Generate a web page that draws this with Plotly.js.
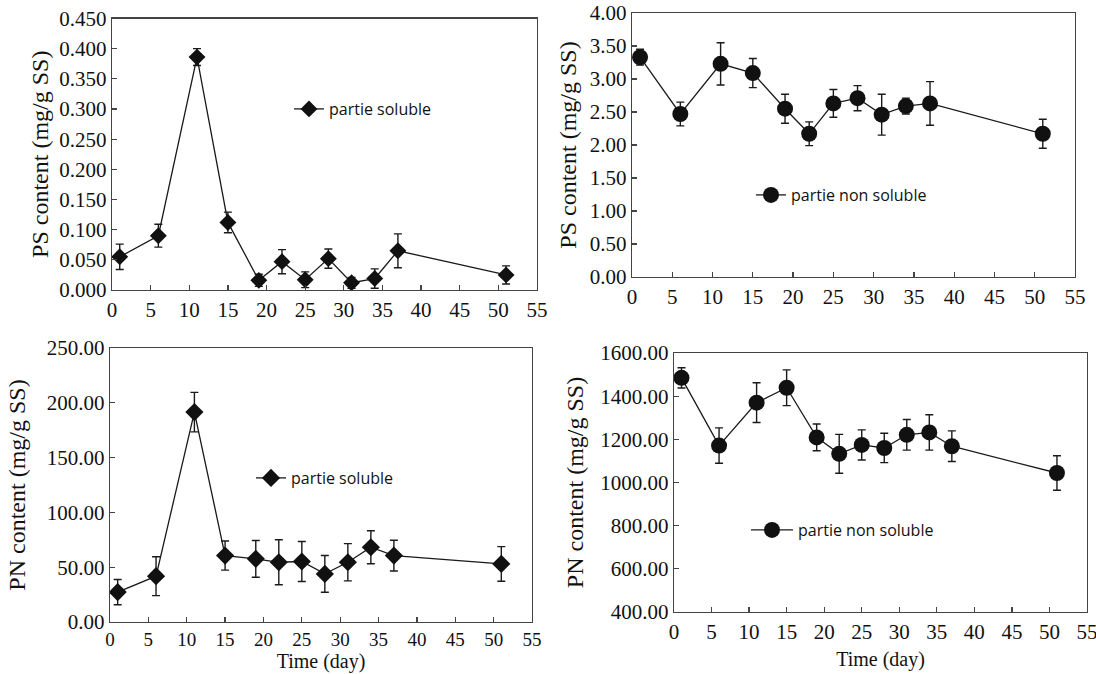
<!DOCTYPE html>
<html>
<head>
<meta charset="utf-8">
<script src="https://cdn.plot.ly/plotly-3.0.1.min.js"></script>
<style>html,body{margin:0;padding:0;background:#fff;}#chart{width:1096px;height:674px;}</style>
</head>
<body>
<div id="chart"></div>
<script>
// ---- data ----
const days = [1, 6, 11, 15, 19, 22, 25, 28, 31, 34, 37, 51];

const psSoluble      = [0.055, 0.090, 0.386, 0.112, 0.016, 0.047, 0.017, 0.052, 0.012, 0.019, 0.065, 0.025];
const psSolubleErr   = [0.021, 0.019, 0.014, 0.017, 0.010, 0.020, 0.013, 0.016, 0.009, 0.016, 0.028, 0.015];

const psInsoluble    = [3.33, 2.47, 3.23, 3.09, 2.55, 2.17, 2.63, 2.71, 2.46, 2.59, 2.63, 2.17];
const psInsolubleErr = [0.12, 0.18, 0.32, 0.22, 0.22, 0.18, 0.21, 0.19, 0.31, 0.12, 0.33, 0.22];

const pnSoluble      = [27.3, 41.8, 191.5, 60.6, 57.6, 54.5, 55.2, 43.9, 54.5, 68.2, 60.6, 53.0];
const pnSolubleErr   = [11.5, 17.7, 18.0, 13.3, 16.8, 20.5, 18.2, 16.8, 17.0, 15.0, 14.0, 15.8];

const pnInsoluble    = [1485, 1171, 1370, 1439, 1209, 1133, 1174, 1160, 1221, 1232, 1168, 1044];
const pnInsolubleErr = [47, 82, 92, 83, 62, 90, 70, 68, 71, 82, 71, 80];

const labelSoluble = 'partie soluble';
const labelInsoluble = 'partie non soluble';
const psTitle = 'PS content (mg/g SS)';
const pnTitle = 'PN content (mg/g SS)';
const timeTitle = 'Time (day)';

// ---- styling ----
const ink = '#111';
function series(y, err, name, symbol, size, xa, ya, leg) {
  return {
    x: days, y: y, name: name, type: 'scatter', mode: 'lines+markers',
    xaxis: xa, yaxis: ya, legend: leg,
    line: {color: '#1a1a1a', width: 1.3},
    marker: {symbol: symbol, size: size, color: ink},
    error_y: {type: 'data', array: err, visible: true, color: '#1a1a1a', thickness: 1.4, width: 4}
  };
}

const data = [
  series(psSoluble, psSolubleErr, labelSoluble, 'diamond', 13, 'x', 'y', 'legend'),
  series(psInsoluble, psInsolubleErr, labelInsoluble, 'circle', 16, 'x2', 'y2', 'legend2'),
  series(pnSoluble, pnSolubleErr, labelSoluble, 'diamond', 14, 'x3', 'y3', 'legend3'),
  series(pnInsoluble, pnInsolubleErr, labelInsoluble, 'circle', 16, 'x4', 'y4', 'legend4')
];

const tickFont = {family: 'Liberation Serif', size: 21, color: ink};
const smallTickFont = {family: 'Liberation Serif', size: 19, color: ink};
const yTitleFont = {family: 'Liberation Serif', size: 24, color: ink};
const xTitleFont = {family: 'Liberation Serif', size: 20, color: ink};
function ax(extra) {
  return Object.assign({
    showline: true, mirror: true, linecolor: '#444', linewidth: 1.3,
    ticks: 'inside', ticklen: 5, tickcolor: '#444', tickwidth: 1.2,
    showgrid: false, zeroline: false, tickfont: tickFont, fixedrange: true,
    ticklabeloverflow: 'allow'
  }, extra);
}
function leg(x, y, extra) {
  return Object.assign({x: x, y: y, xanchor: 'left', yanchor: 'middle', bgcolor: 'rgba(0,0,0,0)',
          font: {family: 'Open Sans', size: 16, color: ink}, borderwidth: 0}, extra || {});
}
const W = 1096, H = 674;
const px = v => v / W, py = v => 1 - v / H;

const layout = {
  width: W, height: H, margin: {l: 0, r: 0, t: 0, b: 0},
  paper_bgcolor: '#fff', plot_bgcolor: '#fff', showlegend: true,
  xaxis:  ax({domain: [px(112), px(537)], anchor: 'y',  range: [0, 55], dtick: 5, tick0: 0}),
  yaxis:  ax({domain: [py(290), py(18.5)], anchor: 'x', range: [0, 0.45], dtick: 0.05, tickformat: '.3f',
              title: {text: psTitle, font: yTitleFont, standoff: 4}}),
  xaxis2: ax({domain: [px(632), px(1075)], anchor: 'y2', range: [0, 55], dtick: 5, tick0: 0}),
  yaxis2: ax({domain: [py(277), py(13)], anchor: 'x2', range: [0, 4], dtick: 0.5, tickformat: '.2f',
              title: {text: psTitle, font: yTitleFont, standoff: 6}}),
  xaxis3: ax({domain: [px(110), px(532)], anchor: 'y3', range: [0, 55], dtick: 5, tick0: 0,
              tickfont: smallTickFont,
              title: {text: timeTitle, font: xTitleFont, standoff: 4}}),
  yaxis3: ax({domain: [py(622), py(348)], anchor: 'x3', range: [0, 250], dtick: 50, tickformat: '.2f',
              title: {text: pnTitle, font: yTitleFont, standoff: 14}}),
  xaxis4: ax({domain: [px(674), px(1087)], anchor: 'y4', range: [0, 55], dtick: 5, tick0: 0,
              title: {text: timeTitle, font: xTitleFont, standoff: 9}}),
  yaxis4: ax({domain: [py(612), py(353)], anchor: 'x4', range: [400, 1600], dtick: 200, tickformat: '.2f',
              title: {text: pnTitle, font: yTitleFont, standoff: 10}}),
  legend:  leg(px(289), py(109)),
  legend2: leg(px(751), py(195)),
  legend3: leg(px(251), py(478)),
  legend4: leg(px(746), py(530), {itemwidth: 42})
};

Plotly.newPlot('chart', data, layout, {staticPlot: true, displayModeBar: false});
</script>
</body>
</html>
